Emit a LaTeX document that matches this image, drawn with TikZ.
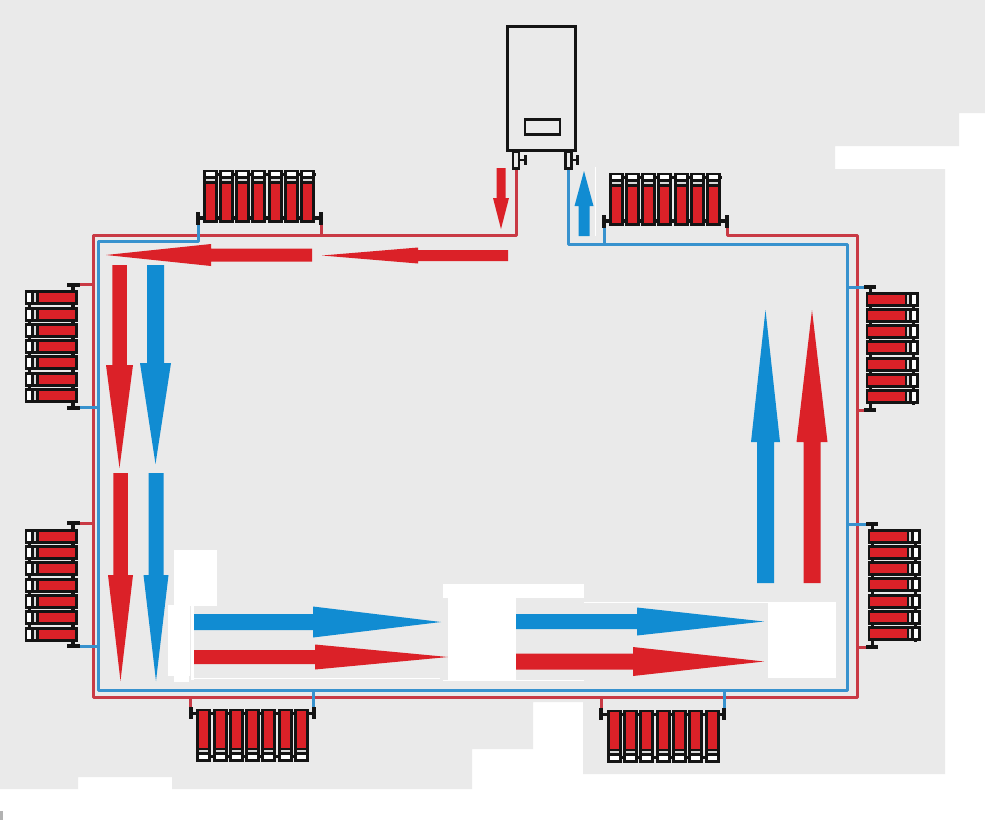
\documentclass[tikz,border=0pt]{standalone}
\usepackage{xcolor}
\usepackage{tikz}
\usetikzlibrary{positioning}
\definecolor{wallgrey}{RGB}{234, 234, 234}
\definecolor{hotred}{RGB}{219, 33, 40}
\definecolor{coldblue}{RGB}{17, 140, 210}
\definecolor{piperedc}{RGB}{201, 58, 69}
\definecolor{pipebluec}{RGB}{56, 146, 206}
\definecolor{edgeblack}{RGB}{20, 20, 20}

\newcommand{\harrow}[7]{\fill[#1] (#3,{#2-#6/2}) -- (#4,{#2-#6/2}) -- (#4,{#2-#7/2}) -- (#5,#2) -- (#4,{#2+#7/2}) -- (#4,{#2+#6/2}) -- (#3,{#2+#6/2}) -- cycle;}
\newcommand{\varrow}[7]{\fill[#1] ({#2-#6/2},#3) -- ({#2-#6/2},#4) -- ({#2-#7/2},#4) -- (#2,#5) -- ({#2+#7/2},#4) -- ({#2+#6/2},#4) -- ({#2+#6/2},#3) -- cycle;}

\tikzset{
	redpipe/.style={draw=piperedc, line width=3pt, line join=round},
	bluepipe/.style={draw=pipebluec, line width=3pt, line join=round},
	fitting/.style={draw=edgeblack, fill=wallgrey, line width=2.6pt, minimum width=6pt, minimum height=17pt, inner sep=0pt},
	radiator/.pic={
		\fill[edgeblack] (-56,-23) rectangle (56,-20);
		\fill[edgeblack] (-56,20) rectangle (56,23.5);
		\foreach \i in {0,...,6} {
			\pgfmathsetmacro{\xs}{-57+16.3*\i}
			\fill[edgeblack] (\xs,-26.5) rectangle (\xs+15,26.5);
			\fill[white] (\xs+3,-23.7) rectangle (\xs+12,-19.7);
			\fill[white!85!black] (\xs+3,-16.8) rectangle (\xs+12,-15);
			\fill[hotred] (\xs+3,-12.5) rectangle (\xs+12,23.7);
		}
		\fill[edgeblack] (-63.5,16) rectangle (-59.5,28.5);
		\fill[edgeblack] (59.5,16) rectangle (63.5,28.5);
		\fill[edgeblack] (-61,20) rectangle (-56,23.5);
		\fill[edgeblack] (56,20) rectangle (61,23.5);
		\coordinate (-l) at (-61.5,28.5);
		\coordinate (-r) at (61.5,28.5);
	}
}

\begin{document}
\begin{tikzpicture}[x=1pt, y=-1pt]
	\useasboundingbox (0,0) rectangle (985,822);
	\fill[white] (0,0) rectangle (985,822);
	\fill[wallgrey] (0,0) -- (985,0) -- (985,113) -- (959,113) -- (959,146) -- (835,146) -- (835,169) -- (945,169) -- (945,774) -- (583,774) -- (583,702) -- (533,702) -- (533,749) -- (472,749) -- (472,789) -- (172,789) -- (172,777) -- (78,777) -- (78,789) -- (0,789) -- cycle;
	\fill[black!30] (0,811) rectangle (2.5,820);

	% boiler
	\node[draw=edgeblack, line width=3pt, minimum width=67.5pt, minimum height=124pt, inner sep=0pt] (boiler) at (541.5,88.5) {};
	\node[draw=edgeblack, line width=2.8pt, minimum width=35pt, minimum height=14.5pt, inner sep=0pt] (panel) at (542.5,127) {};
	\node[fitting] (outL) at (516,160) {};
	\node[fitting] (outR) at (568.5,160) {};
	\draw[edgeblack, line width=2.6pt] (outL.east) -- ++(5,0);
	\draw[edgeblack, line width=2.6pt] (outR.east) -- ++(5,0);
	\draw[edgeblack, line width=3pt] ([xshift=5pt]outL.east) ++(0,-5) -- ++(0,10);
	\draw[edgeblack, line width=3pt] ([xshift=5pt]outR.east) ++(0,-5) -- ++(0,10);

	% radiators
	\pic (radTL) at (259.5,196) {radiator};
	\pic (radTR) at (665.5,199) {radiator};
	\pic[rotate=90] (radLU) at (51,346) {radiator};
	\pic[rotate=90] (radLD) at (51,584.5) {radiator};
	\pic[rotate=180] (radBL) at (252,735) {radiator};
	\pic[rotate=180] (radBR) at (662.5,736) {radiator};
	\pic[rotate=-90] (radRU) at (892,348.5) {radiator};
	\pic[rotate=-90] (radRD) at (894,585.5) {radiator};

	% pipe corners
	\coordinate (redTL) at (93,235);
	\coordinate (redBL) at (93,697);
	\coordinate (redBR) at (857,697);
	\coordinate (redTR) at (857,235);
	\coordinate (blueTL) at (98,241);
	\coordinate (blueBL) at (98,690);
	\coordinate (blueBR) at (847,690);
	\coordinate (blueTR) at (847,244);

	\draw[redpipe] (outL.south) -- (outL.south |- redTL) -- (redTL) -- (redBL) -- (redBR) -- (redTR) -- (radTR-r |- redTR) -- (radTR-r);
	\draw[redpipe] (radTL-r) -- (radTL-r |- redTL);
	\draw[redpipe] (radLU-r) -- (radLU-r -| redTL);
	\draw[redpipe] (radLD-r) -- (radLD-r -| redTL);
	\draw[redpipe] (radBL-r) -- (radBL-r |- redBL);
	\draw[redpipe] (radBR-r) -- (radBR-r |- redBL);
	\draw[redpipe] (radRU-r) -- (radRU-r -| redTR);
	\draw[redpipe] (radRD-r) -- (radRD-r -| redTR);

	\draw[bluepipe] (outR.south) -- (outR.south |- blueTR) -- (blueTR) -- (blueBR) -- (blueBL) -- (blueTL) -- (radTL-l |- blueTL) -- (radTL-l);
	\draw[bluepipe] (radTR-l) -- (radTR-l |- blueTR);
	\draw[bluepipe] (radLU-l) -- (radLU-l -| blueTL);
	\draw[bluepipe] (radLD-l) -- (radLD-l -| blueTL);
	\draw[bluepipe] (radBL-l) -- (radBL-l |- blueBL);
	\draw[bluepipe] (radBR-l) -- (radBR-l |- blueBL);
	\draw[bluepipe] (radRU-l) -- (radRU-l -| blueTR);
	\draw[bluepipe] (radRD-l) -- (radRD-l -| blueTR);

	% flow arrows
	\varrow{hotred}{501}{168}{198}{229}{9}{16}
	\varrow{coldblue}{584}{236}{206}{171}{11}{19}
	\harrow{hotred}{255}{312}{211}{106}{13}{22}
	\harrow{hotred}{255.5}{508}{418}{322}{11}{16}
	\varrow{hotred}{119.5}{265}{365}{468}{14.5}{27}
	\varrow{coldblue}{155.5}{265}{363}{464}{17}{31}
	\varrow{hotred}{120.5}{473}{575}{681}{14.5}{25}
	\varrow{coldblue}{156}{473}{575}{681}{15}{25}
	\harrow{coldblue}{622}{194}{313}{441}{16}{31}
	\harrow{hotred}{657}{194}{315}{448}{14}{25}
	\harrow{coldblue}{621.5}{516}{637}{764}{15}{28}
	\harrow{hotred}{661.5}{516}{633}{764}{16}{29}
	\varrow{coldblue}{765.5}{583}{442}{310}{17}{29}
	\varrow{hotred}{812}{583}{442}{310}{17}{31}

	% white patches
	\fill[white] (174,550) rectangle (217,606);
	\fill[white] (168,605) rectangle (190,676);
	\fill[white] (174,676) rectangle (189,682);
	\fill[white] (191,605) rectangle (194,680);
	\fill[white] (194,677.5) rectangle (440,679);
	\fill[white] (443,584) rectangle (584,598);
	\fill[white] (448,598) rectangle (516,680);
	\fill[white] (443,680) rectangle (584,681);
	\fill[white] (584,601.5) rectangle (768,603);
	\fill[white] (768,602) rectangle (836,678);
	\fill[white] (595,167) rectangle (596,236);
\end{tikzpicture}
\end{document}
